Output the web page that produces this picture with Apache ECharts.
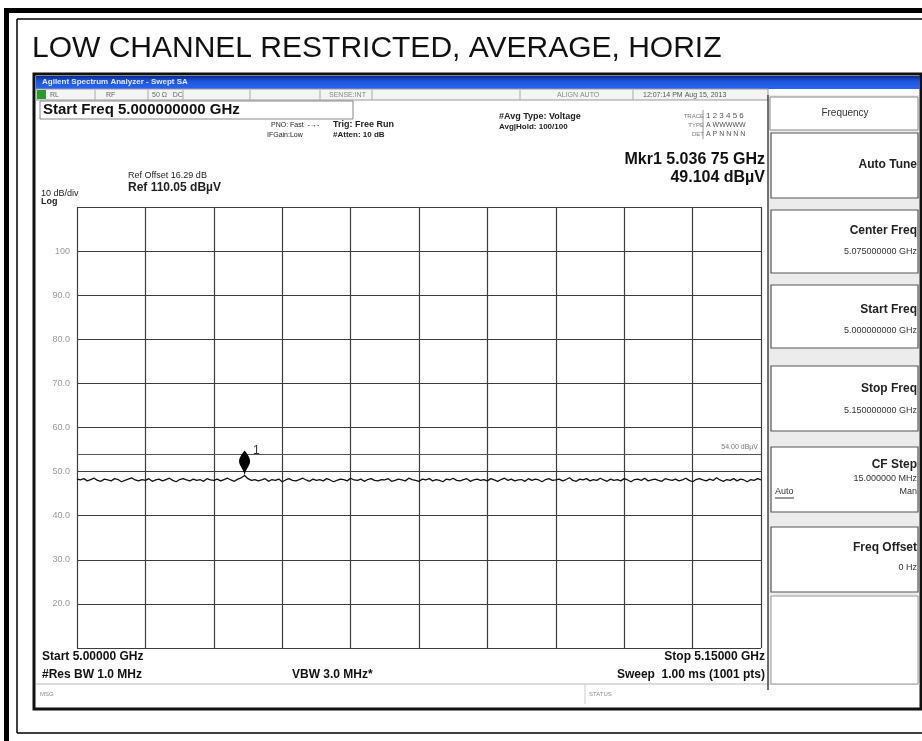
<!DOCTYPE html>
<html>
<head>
<meta charset="utf-8">
<script src="https://cdn.jsdelivr.net/npm/echarts@6/dist/echarts.min.js"></script>
<style>
  html, body { margin: 0; padding: 0; background: #fff; }
  #chart { width: 922px; height: 741px; }
</style>
</head>
<body>
<div id="chart"></div>
<script>
// sweep: 5.000 - 5.150 GHz, x axis in MHz from start
const startMHz = 0
const stopMHz = 150
const stepMHz = 0.75
const xTickStep = 15

// level axis, dBuV
const yMin = 10
const yMax = 110
const yTickLabels = { 100: '100', 90: '90.0', 80: '80.0', 70: '70.0', 60: '60.0', 50: '50.0', 40: '40.0', 30: '30.0', 20: '20.0' }

const displayLine = 54.0
const markerIndex = 49

// trace 1, average (one value every 0.75 MHz)
const traceValues = [
  48.3, 48.1, 48.4, 47.9, 48.2, 48.5, 48.0, 47.8, 48.3, 48.1,
  47.9, 48.4, 48.2, 47.7, 48.0, 48.3, 48.6, 48.1, 47.9, 48.2,
  48.0, 48.4, 47.8, 48.1, 48.3, 47.9, 48.2, 48.5, 48.0, 47.7,
  48.2, 48.4, 48.1, 47.9, 48.3, 48.0, 48.2, 47.8, 48.4, 48.1,
  48.0, 48.3, 47.9, 48.2, 48.5, 48.1, 47.8, 48.3, 48.6, 49.104,
  48.4, 48.0, 48.2, 47.9, 48.1, 48.4, 47.8, 48.2, 48.0, 48.3,
  47.7, 48.1, 48.4, 48.0, 47.9, 48.2, 48.5, 48.1, 47.8, 48.3,
  48.0, 48.2, 47.9, 48.4, 48.1, 47.7, 48.0, 48.3, 48.2, 47.9,
  48.5, 48.1, 48.0, 48.3, 47.8, 48.2, 48.4, 48.0, 47.9, 48.2,
  48.1, 48.4, 47.8, 48.0, 48.3, 48.1, 47.9, 48.5, 48.2, 48.0,
  47.8, 48.3, 48.1, 48.4, 47.9, 48.2, 48.0, 47.7, 48.3, 48.1,
  48.5, 48.0, 47.9, 48.2, 48.4, 47.8, 48.1, 48.3, 48.0, 48.2,
  47.9, 48.4, 48.1, 47.8, 48.2, 48.5, 48.0, 48.3, 47.9, 48.1,
  48.2, 47.8, 48.4, 48.0, 48.3, 48.1, 47.7, 48.2, 48.4, 48.0,
  48.1, 48.3, 47.9, 48.2, 48.6, 48.0, 47.8, 48.3, 48.1, 48.4,
  47.9, 48.2, 48.0, 48.5, 48.1, 47.8, 48.3, 48.0, 48.2, 47.9,
  48.4, 48.1, 47.7, 48.2, 48.3, 48.0, 48.5, 47.9, 48.1, 48.3,
  48.0, 47.8, 48.4, 48.2, 48.0, 48.3, 47.9, 48.1, 48.5, 48.0,
  47.7, 48.2, 48.4, 48.1, 47.9, 48.3, 48.0, 48.6, 48.1, 47.8,
  48.2, 48.0, 48.4, 47.9, 48.3, 48.1, 47.7, 48.2, 48.0, 48.4,
  48.1
]

const chart = echarts.init(document.getElementById('chart'))
const F = '"Liberation Sans", Arial, sans-serif'

function txt(x, y, text, size, opts = {}) {
  return {
    type: 'text',
    x, y,
    silent: true,
    style: {
      text,
      font: `${opts.bold ? 'bold ' : ''}${size}px ${F}`,
      fill: opts.color || '#111',
      align: opts.align || 'left',
      verticalAlign: 'middle',
      textAlign: opts.align || 'left',
      textVerticalAlign: 'middle'
    }
  }
}
function rect(x, y, w, h, fill, stroke, lw) {
  return {
    type: 'rect', silent: true,
    shape: { x, y, width: w, height: h },
    style: { fill: fill || 'none', stroke: stroke || null, lineWidth: lw || 1 }
  }
}
function line(x1, y1, x2, y2, stroke, lw) {
  return {
    type: 'line', silent: true,
    shape: { x1, y1, x2, y2 },
    style: { stroke, lineWidth: lw || 1 }
  }
}

// soft keys on the right
const keys = [
  { top: 133, bottom: 198, title: 'Auto Tune', titleY: 165 },
  { top: 210, bottom: 273, title: 'Center Freq', titleY: 231, value: '5.075000000 GHz', valueY: 252 },
  { top: 285, bottom: 348, title: 'Start Freq', titleY: 310, value: '5.000000000 GHz', valueY: 331 },
  { top: 366, bottom: 431, title: 'Stop Freq', titleY: 389, value: '5.150000000 GHz', valueY: 411 },
  { top: 447, bottom: 512, title: 'CF Step', titleY: 465, value: '15.000000 MHz', valueY: 479 },
  { top: 527, bottom: 592, title: 'Freq Offset', titleY: 548, value: '0 Hz', valueY: 568 }
]

const graphics = [
  // outer frame of the report page
  rect(4, 8, 918, 5, '#000'),
  rect(4, 8, 5, 733, '#000'),
  line(17, 19, 922, 19, '#000', 1.5),
  line(17, 19, 17, 733, '#000', 1.5),
  line(17, 733, 922, 733, '#000', 1.5),
  txt(32, 49, 'LOW CHANNEL RESTRICTED, AVERAGE, HORIZ', 30),

  // analyzer screenshot
  rect(34, 74, 887, 635, '#fff', '#111', 3),
  {
    type: 'rect', silent: true,
    shape: { x: 36, y: 76, width: 884, height: 13 },
    style: {
      fill: new echarts.graphic.LinearGradient(0, 0, 0, 1, [
        { offset: 0, color: '#0a2a8c' },
        { offset: 0.4, color: '#1c56de' },
        { offset: 1, color: '#2a66f0' }
      ])
    }
  },
  txt(42, 82, 'Agilent Spectrum Analyzer - Swept SA', 8, { bold: true, color: '#dfe8ff' }),
  rect(36, 89, 732, 11, '#f4f4f4', '#999'),
  rect(37, 90, 9, 9, '#2a9a2a'),
  txt(50, 95, 'RL', 7, { color: '#666' }),
  line(95, 90, 95, 100, '#aaa'),
  txt(106, 95, 'RF', 7, { color: '#666' }),
  line(148, 90, 148, 100, '#aaa'),
  txt(152, 95, '50 Ω   DC', 7, { color: '#666' }),
  line(183, 90, 183, 100, '#aaa'),
  line(250, 90, 250, 100, '#aaa'),
  line(320, 90, 320, 100, '#aaa'),
  txt(329, 95, 'SENSE:INT', 7, { color: '#888' }),
  line(372, 90, 372, 100, '#aaa'),
  line(520, 90, 520, 100, '#aaa'),
  txt(557, 95, 'ALIGN AUTO', 7, { color: '#888' }),
  line(633, 90, 633, 100, '#aaa'),
  txt(643, 95, '12:07:14 PM Aug 15, 2013', 7, { color: '#555' }),

  rect(40, 101, 313, 18, null, '#888'),
  txt(43, 110, 'Start Freq 5.000000000 GHz', 15, { bold: true }),
  txt(271, 125, 'PNO: Fast  -→-', 7, { color: '#222' }),
  txt(267, 135, 'IFGain:Low', 7, { color: '#222' }),
  txt(333, 125, 'Trig: Free Run', 9, { bold: true, color: '#222' }),
  txt(333, 135, '#Atten: 10 dB', 8, { bold: true, color: '#222' }),
  txt(499, 117, '#Avg Type: Voltage', 9, { bold: true, color: '#222' }),
  txt(499, 127, 'Avg|Hold: 100/100', 8, { bold: true, color: '#222' }),
  txt(704, 116, 'TRACE', 6, { color: '#777', align: 'right' }),
  txt(706, 116, '1 2 3 4 5 6', 8, { color: '#555' }),
  txt(704, 125, 'TYPE', 6, { color: '#777', align: 'right' }),
  txt(706, 125, 'A WWWWW', 7, { color: '#555' }),
  txt(704, 134, 'DET', 6, { color: '#777', align: 'right' }),
  txt(706, 134, 'A P N N N N', 7, { color: '#555' }),
  line(703, 110, 703, 139, '#999'),

  txt(765, 160, 'Mkr1 5.036 75 GHz', 16, { bold: true, align: 'right' }),
  txt(765, 178, '49.104 dBµV', 16, { bold: true, align: 'right' }),
  txt(128, 176, 'Ref Offset 16.29 dB', 9, { color: '#222' }),
  txt(128, 188, 'Ref 110.05 dBµV', 12, { bold: true, color: '#222' }),
  txt(41, 194, '10 dB/div', 9, { color: '#222' }),
  txt(41, 202, 'Log', 9, { bold: true, color: '#222' }),

  txt(42, 657, 'Start 5.00000 GHz', 12, { bold: true }),
  txt(42, 675, '#Res BW 1.0 MHz', 12, { bold: true }),
  txt(292, 675, 'VBW 3.0 MHz*', 12, { bold: true }),
  txt(765, 657, 'Stop 5.15000 GHz', 12, { bold: true, align: 'right' }),
  txt(765, 675, 'Sweep  1.00 ms (1001 pts)', 12, { bold: true, align: 'right' }),
  line(36, 684, 920, 684, '#bbb'),
  txt(40, 694, 'MSG', 6, { color: '#888' }),
  line(585, 684, 585, 704, '#ccc'),
  txt(589, 694, 'STATUS', 6, { color: '#888' }),

  // soft key panel
  rect(768, 95, 151, 589, '#ececec'),
  line(768, 95, 768, 690, '#444', 1.5),
  rect(770, 97, 148, 33, '#fff', '#888'),
  txt(845, 113, 'Frequency', 10, { color: '#333', align: 'center' })
]

keys.forEach((k) => {
  graphics.push(rect(771, k.top, 147, k.bottom - k.top, '#fff', '#555', 1.2))
  graphics.push(txt(917, k.titleY, k.title, 12, { bold: true, color: '#222', align: 'right' }))
  if (k.value) graphics.push(txt(917, k.valueY, k.value, 9, { color: '#333', align: 'right' }))
})
graphics.push(txt(775, 492, 'Auto', 9, { color: '#333' }))
graphics.push(line(775, 498, 794, 498, '#333'))
graphics.push(txt(917, 492, 'Man', 9, { color: '#333', align: 'right' }))
graphics.push(rect(771, 596, 147, 88, '#fff', '#999', 1))

chart.setOption({
  animation: false,
  backgroundColor: '#fff',
  grid: {
    left: 77, top: 207, width: 684, height: 441,
    show: true, borderColor: '#1a1a1a', borderWidth: 2, backgroundColor: 'transparent'
  },
  xAxis: {
    type: 'value',
    min: startMHz, max: stopMHz, interval: xTickStep,
    axisLine: { show: false }, axisTick: { show: false }, axisLabel: { show: false },
    splitLine: { show: true, lineStyle: { color: '#3c3c3c', width: 1.2 } }
  },
  yAxis: {
    type: 'value',
    min: yMin, max: yMax, interval: 10,
    axisLine: { show: false }, axisTick: { show: false },
    axisLabel: {
      margin: 7, color: '#999', fontSize: 9, fontFamily: F,
      formatter: (v) => yTickLabels[Math.round(v)] || ''
    },
    splitLine: { show: true, lineStyle: { color: '#3c3c3c', width: 1.2 } }
  },
  series: [
    {
      type: 'line',
      data: traceValues.map((v, i) => [startMHz + i * stepMHz, v]),
      symbol: 'none',
      lineStyle: { color: '#111', width: 1.3 },
      z: 5,
      markLine: {
        silent: true,
        symbol: ['none', 'none'],
        lineStyle: { color: '#555', width: 1.2, type: 'solid' },
        label: {
          position: 'insideEndTop', formatter: '54.00 dBµV',
          color: '#777', fontSize: 7, fontFamily: F, distance: 3
        },
        data: [{ yAxis: displayLine }]
      },
      markPoint: {
        silent: true,
        symbol: 'path://M5,0 C8,4 11,8 10,12 C9,16 6,18 5,24 C4,18 1,16 0,12 C-1,8 2,4 5,0 Z',
        symbolSize: [11, 25],
        symbolOffset: [0, '-50%'],
        itemStyle: { color: '#000' },
        label: {
          show: true, formatter: '1', position: [14, -6],
          color: '#333', fontSize: 12, fontFamily: F
        },
        data: [{ coord: [startMHz + markerIndex * stepMHz, traceValues[markerIndex]] }]
      }
    }
  ],
  graphic: { elements: graphics }
})
</script>
</body>
</html>
